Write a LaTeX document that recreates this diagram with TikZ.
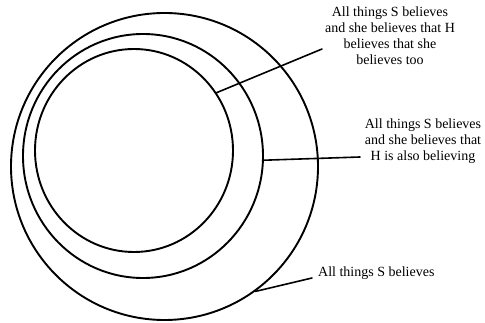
\documentclass[tikz,border=0pt]{standalone}
\usepackage{fontspec}
\setmainfont{Liberation Serif}
\usetikzlibrary{positioning,shapes.geometric}

\begin{document}
\begin{tikzpicture}[x=1pt,y=-1pt,line cap=round]
  \tikzset{
    ring/.style={ellipse,draw,line width=1.9pt,inner sep=0pt},
    leader/.style={line width=1.6pt},
    note/.style={align=center,inner sep=0pt,font=\fontsize{14}{16}\selectfont}
  }
  \useasboundingbox (0,0) rectangle (485,323);
  % three nested circles
  \node[ring,minimum width=307pt,minimum height=307pt] (outer) at (164.5,166.5) {};
  \node[ring,minimum width=240pt,minimum height=244pt] (middle) at (143,156) {};
  \node[ring,minimum width=198pt,minimum height=203pt] (inner) at (134,150.5) {};
  % labels
  \node[note] (lblinner) at (390,36) {All things S believes\\and she believes that H\\believes that she\\believes too};
  \node[note] (lblmiddle) at (423,141) {All things S believes\\and she believes that\\H is also believing};
  \node[note,anchor=west] (lblouter) at (318,273) {All things S believes};
  % leader ends
  \coordinate (endinner) at (322,49);
  \coordinate (endmiddle) at (360,157);
  \coordinate (endouter) at (312,278);
  \draw[leader] (inner.35) -- (endinner);
  \draw[leader] (middle.-2) -- (endmiddle);
  \draw[leader] (outer.-54) -- (endouter);
\end{tikzpicture}
\end{document}
